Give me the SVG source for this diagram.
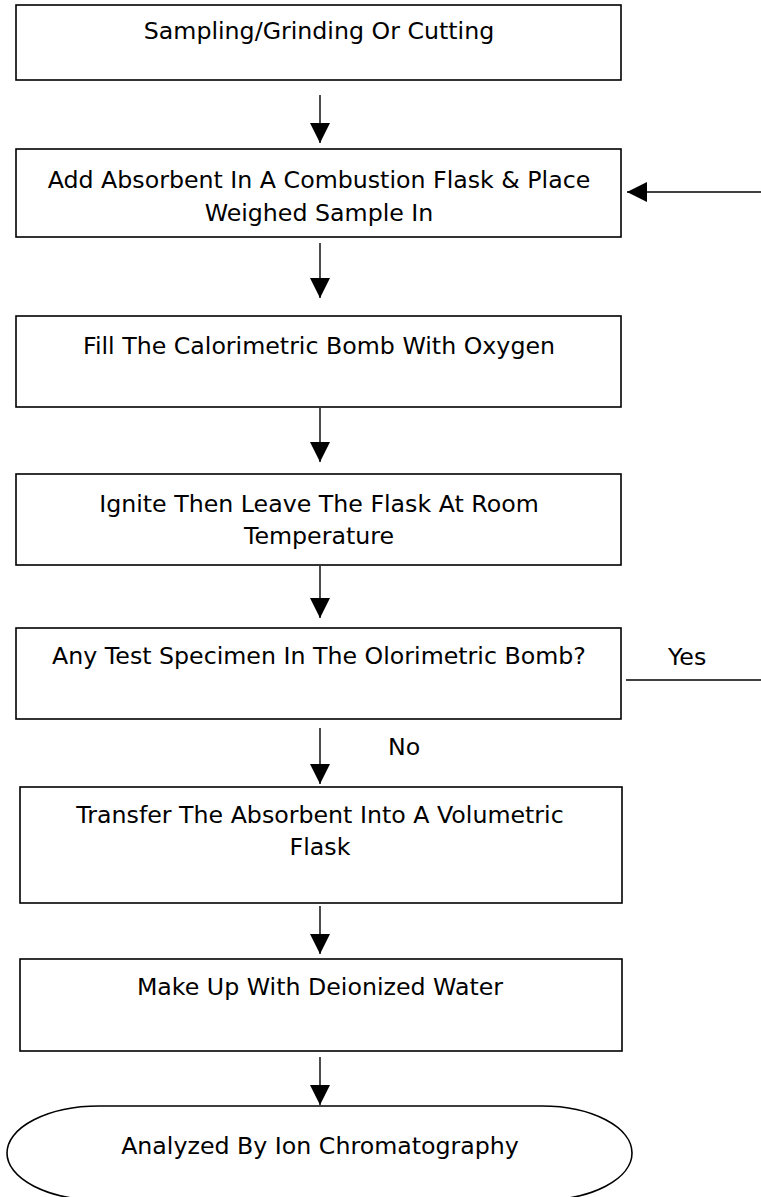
<svg xmlns="http://www.w3.org/2000/svg" width="761" height="1197" viewBox="0 0 761 1197">
<style>
.box{fill:#fff;stroke:#000;stroke-width:1.6}
.t{font-family:"DejaVu Sans","Liberation Sans",sans-serif;font-size:23.7px;fill:#000;text-anchor:middle}
.l{font-family:"DejaVu Sans","Liberation Sans",sans-serif;font-size:23.7px;fill:#000}
.c{stroke:#000;stroke-width:1.4;fill:none}
</style>
<defs>
<marker id="ah" viewBox="0 0 20 20" refX="20" refY="10" markerWidth="20" markerHeight="20" markerUnits="userSpaceOnUse" orient="auto">
<path d="M0,0 L20,10 L0,20 Z" fill="#000"/>
</marker>
</defs>
<rect width="761" height="1197" fill="#fff"/>
<g id="n1"><rect class="box" x="16" y="5" width="605" height="75"/><text class="t" x="319" y="39">Sampling/Grinding Or Cutting</text></g>
<g id="n2"><rect class="box" x="16" y="149" width="605" height="88"/><text class="t" x="319" y="188">Add Absorbent In A Combustion Flask &amp; Place</text><text class="t" x="319" y="221">Weighed Sample In</text></g>
<g id="n3"><rect class="box" x="16" y="316" width="605" height="91"/><text class="t" x="319" y="354">Fill The Calorimetric Bomb With Oxygen</text></g>
<g id="n4"><rect class="box" x="16" y="474" width="605" height="91"/><text class="t" x="319" y="512">Ignite Then Leave The Flask At Room</text><text class="t" x="319" y="544">Temperature</text></g>
<g id="n5"><rect class="box" x="16" y="628" width="605" height="91"/><text class="t" x="319" y="664">Any Test Specimen In The Olorimetric Bomb?</text></g>
<g id="n6"><rect class="box" x="20" y="787" width="602" height="116"/><text class="t" x="320" y="823">Transfer The Absorbent Into A Volumetric</text><text class="t" x="320" y="855">Flask</text></g>
<g id="n7"><rect class="box" x="20" y="959" width="602" height="92"/><text class="t" x="320" y="995">Make Up With Deionized Water</text></g>
<g id="n8"><path class="box" d="M99,1106 L542,1106 A90,47 0 0 1 542,1200 L99,1200 A92,47 0 0 1 99,1106 Z"/><text class="t" x="320" y="1154">Analyzed By Ion Chromatography</text></g>
<g id="connectors">
<line class="c" x1="320" y1="95" x2="320" y2="143" marker-end="url(#ah)"/>
<line class="c" x1="320" y1="243" x2="320" y2="298" marker-end="url(#ah)"/>
<line class="c" x1="320" y1="408" x2="320" y2="462" marker-end="url(#ah)"/>
<line class="c" x1="320" y1="566" x2="320" y2="618" marker-end="url(#ah)"/>
<line class="c" x1="320" y1="728" x2="320" y2="784" marker-end="url(#ah)"/>
<line class="c" x1="320" y1="906" x2="320" y2="954" marker-end="url(#ah)"/>
<line class="c" x1="320" y1="1057" x2="320" y2="1105" marker-end="url(#ah)"/>
<line class="c" x1="761" y1="192" x2="627" y2="192" marker-end="url(#ah)"/>
<line class="c" x1="626" y1="680" x2="761" y2="680"/>
<text class="l" x="668" y="665">Yes</text>
<text class="l" x="388" y="755">No</text>
</g>
</svg>
